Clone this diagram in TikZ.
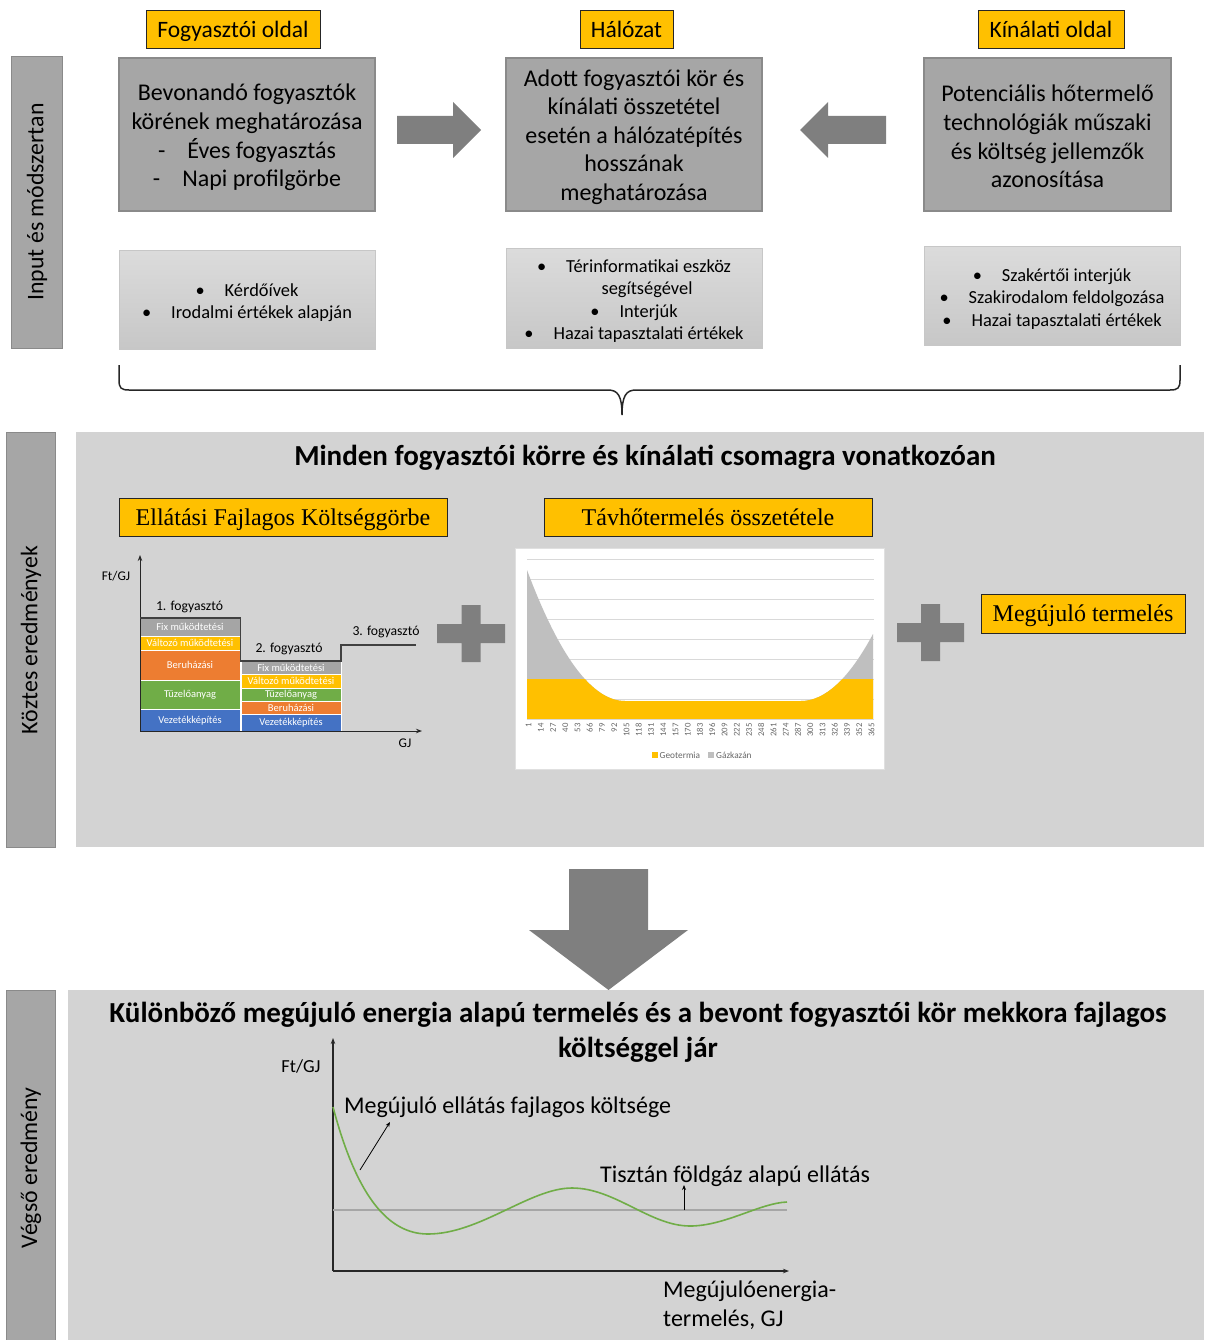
\documentclass[tikz,border=0pt]{standalone}
\usepackage{fontspec}
\setmainfont{Carlito}
\newfontfamily\tnr{Liberation Serif}
\usetikzlibrary{arrows.meta}

\definecolor{gold}{HTML}{FFC000}
\definecolor{midgray}{HTML}{A6A6A6}
\definecolor{edgegray}{HTML}{8A8A8A}
\definecolor{panelgray}{HTML}{D3D3D3}
\definecolor{arrowgray}{HTML}{7F7F7F}
\definecolor{segorange}{HTML}{ED7D31}
\definecolor{seggreen}{HTML}{70AD47}
\definecolor{segblue}{HTML}{4472C4}
\definecolor{seggray}{HTML}{A5A5A5}
\definecolor{areagray}{HTML}{BFBFBF}
\definecolor{gridgray}{HTML}{D9D9D9}
\definecolor{curvegreen}{HTML}{70AD47}

\newcommand\fsz[2]{\fontsize{#1}{#2}\selectfont}

\begin{document}
\begin{tikzpicture}[x=1pt,y=-1pt,
  hdr/.style={draw=black!85, line width=1pt, fill=gold, inner sep=0pt, text height=16pt, text depth=0pt, font=\fsz{23.5}{26}},
  serifhdr/.style={draw=black!85, line width=1pt, fill=gold, inner sep=0pt, text height=17pt, text depth=1pt, font=\tnr\fsz{24}{27}},
  bigbox/.style={draw=edgegray, line width=1.2pt, fill=midgray, inner sep=0pt},
  boxtext/.style={inner sep=0pt, align=center, font=\fsz{24}{28.6}},
  smallbox/.style={draw=black!22, line width=1pt, top color=black!14, bottom color=black!22, inner sep=0pt},
  smalltext/.style={inner sep=0pt, align=center, font=\fsz{18.4}{22.2}},
  side/.style={draw=edgegray, line width=1pt, fill=midgray, inner sep=0pt},
  sidelabel/.style={rotate=90, inner sep=0pt, font=\fsz{23.8}{26}},
  panel/.style={fill=panelgray, inner sep=0pt},
  fatshape/.style={fill=arrowgray},
  seg/.style={draw=white, line width=0.6pt, inner sep=0pt, text=white, font=\fsz{10.5}{11}},
  small/.style={inner sep=0pt, font=\fsz{13.7}{15}},
  axis/.style={line width=1pt, black!85, -{Stealth[length=6pt,width=4.5pt]}},
  lbl/.style={inner sep=0pt, font=\fsz{24}{29}},
  tick/.style={rotate=90, anchor=east, inner sep=0pt, font=\fsz{8.7}{9}, text=black!60},
  legend/.style={anchor=west, inner sep=0pt, font=\fsz{9.3}{10}, text=black!60},
]
\useasboundingbox (0,0) rectangle (1204,1340);

% ---------------- Top section ----------------
\node[side, minimum width=51, minimum height=291] (s1) at (36.5,202.5) {};
\node[sidelabel] (s1t) at (37,202) {Input és módszertan};

\node[hdr, minimum width=174, minimum height=38] (h1) at (233,30) {Fogyasztói oldal};
\node[hdr, minimum width=93, minimum height=38] (h2) at (626.5,30) {Hálózat};
\node[hdr, minimum width=146, minimum height=38] (h3) at (1051,30) {Kínálati oldal};

\node[bigbox, minimum width=256, minimum height=153] (b1) at (247,134.5) {};
\node[boxtext] (b1t) at (247,137.5)
  {Bevonandó fogyasztók\\körének meghatározása\\-\hspace{22pt}Éves fogyasztás\\-\hspace{22pt}Napi profilgörbe};
\node[bigbox, minimum width=256, minimum height=153] (b2) at (634,134.5) {};
\node[boxtext] (b2t) at (634,137)
  {Adott fogyasztói kör és\\kínálati összetétel\\esetén a hálózatépítés\\hosszának\\meghatározása};
\node[bigbox, minimum width=247, minimum height=153] (b3) at (1047.5,134.5) {};
\node[boxtext] (b3t) at (1047.5,136.5)
  {Potenciális hőtermelő\\technológiák műszaki\\és költség jellemzők\\azonosítása};

\fill[fatshape] (397,116) -- (453,116) -- (453,102) -- (481,130) -- (453,158) -- (453,144) -- (397,144) -- cycle;
\fill[fatshape] (886,116) -- (828,116) -- (828,102) -- (800,130) -- (828,158) -- (828,144) -- (886,144) -- cycle;

\node[smallbox, minimum width=256, minimum height=98] (sb1) at (247,300) {};
\node[smalltext] (sb1t) at (247,303)
  {•\hspace{20pt}Kérdőívek\\•\hspace{20pt}Irodalmi értékek alapján};
\node[smallbox, minimum width=256, minimum height=99] (sb2) at (634,298.5) {};
\node[smalltext] (sb2t) at (634,301)
  {•\hspace{20pt}Térinformatikai eszköz\\\hspace{26pt}segítségével\\•\hspace{20pt}Interjúk\\•\hspace{20pt}Hazai tapasztalati értékek};
\node[smallbox, minimum width=256, minimum height=98] (sb3) at (1052,296) {};
\node[smalltext] (sb3t) at (1052,299)
  {•\hspace{20pt}Szakértői interjúk\\•\hspace{20pt}Szakirodalom feldolgozása\\•\hspace{20pt}Hazai tapasztalati értékek};

% brace
\coordinate (brL) at (119,365);
\coordinate (brR) at (1180,365);
\coordinate (brM) at (622,415);
\draw[line width=1.5pt, black!85] (brL) -- (119,380) .. controls (119,388) and (121,390) .. (129,390)
  -- (608,390) .. controls (618,390) and (622,396) .. (brM)
  .. controls (622,396) and (626,390) .. (636,390) -- (1170,390)
  .. controls (1178,390) and (1180,388) .. (1180,380) -- (brR);

% ---------------- Middle section ----------------
\node[side, minimum width=49, minimum height=415] (s2) at (30.5,639.5) {};
\node[sidelabel] (s2t) at (31,640) {Köztes eredmények};
\node[panel, minimum width=1128, minimum height=415] (p2) at (640,639.5) {};

\node[inner sep=0pt, font=\fsz{29}{32}\bfseries] (t2) at (645,458) {Minden fogyasztói körre és kínálati csomagra vonatkozóan};

\node[serifhdr, minimum width=328, minimum height=38] (e1) at (283,517) {Ellátási Fajlagos Költséggörbe};
\node[serifhdr, minimum width=328, minimum height=38] (e2) at (708,517) {Távhőtermelés összetétele};
\node[serifhdr, minimum width=204, minimum height=39] (e3) at (1083,613.5) {Megújuló termelés};

% chart 1: cost curve
\node[seg, fill=seggray,    minimum width=100, minimum height=18]   (a1) at (190,627)    {Fix működtetési};
\node[seg, fill=gold,       minimum width=100, minimum height=14]   (a2) at (190,643)    {Változó működtetési};
\node[seg, fill=segorange,  minimum width=100, minimum height=30]   (a3) at (190,665)    {Beruházási};
\node[seg, fill=seggreen,   minimum width=100, minimum height=29.5] (a4) at (190,694.75) {Tüzelőanyag};
\node[seg, fill=segblue,    minimum width=100, minimum height=21.5] (a5) at (190,720.25) {Vezetékképítés};

\node[seg, fill=seggray,    minimum width=100, minimum height=13.5] (c1) at (291,667.75) {Fix működtetési};
\node[seg, fill=gold,       minimum width=100, minimum height=13.5] (c2) at (291,681.25) {Változó működtetési};
\node[seg, fill=seggreen,   minimum width=100, minimum height=13]   (c3) at (291,694.5)  {Tüzelőanyag};
\node[seg, fill=segorange,  minimum width=100, minimum height=13.5] (c4) at (291,707.75) {Beruházási};
\node[seg, fill=segblue,    minimum width=100, minimum height=16.5] (c5) at (291,722.75) {Vezetékképítés};

\coordinate (o1) at (140,731);
\coordinate (y1) at (140,555);
\coordinate (x1) at (422,731);
\draw[axis] (o1) -- (y1);
\draw[axis] (o1) -- (x1);
\coordinate (k1) at (140,618);
\coordinate (k2) at (240.5,618);
\coordinate (k3) at (240.5,661);
\coordinate (k4) at (341,661);
\coordinate (k5) at (341,645);
\coordinate (k6) at (416,645);
\draw[line width=1.5pt, black!75] (k1) -- (k2) -- (k3) -- (k4) -- (k5) -- (k6);

\node[small, font=\fsz{13.3}{14}] (fl1) at (116,576) {Ft/GJ};
\node[small, font=\fsz{13.3}{14}] (gl1) at (405,743) {GJ};
\node[small] (f1) at (189.5,607) {1. fogyasztó};
\node[small] (f2) at (289,649) {2. fogyasztó};
\node[small] (f3) at (386,632) {3. fogyasztó};

% plus signs
\fill[fatshape] (461.5,605) rectangle (480.5,662) (437,624) rectangle (505,643);
\fill[fatshape] (921,604) rectangle (940,661) (897,623) rectangle (964,642);

% chart 2: area chart
\node[draw=black!12, line width=0.8pt, fill=white, minimum width=369, minimum height=221, inner sep=0pt] (ch2) at (699.5,658.5) {};
\foreach \g in {559,579,599,619,639,659,679,699} {
  \draw[gridgray, line width=0.8pt] (527,\g) -- (874,\g);
}
\fill[areagray] (527,719) -- (527,570) .. controls (559.7,657.3) and (592.3,701) .. (625,701)
  -- (801,701) .. controls (825,701) and (849,678.7) .. (873,634) -- (873,719) -- cycle;
\begin{scope}
  \clip (526,679) rectangle (875,719);
  \fill[gold] (527,719) -- (527,570) .. controls (559.7,657.3) and (592.3,701) .. (625,701)
    -- (801,701) .. controls (825,701) and (849,678.7) .. (873,634) -- (873,719) -- cycle;
\end{scope}
\draw[gridgray, line width=0.8pt] (527,719) -- (874,719);
\foreach \i in {0,...,28} {
  \pgfmathtruncatemacro\dd{1+13*\i}
  \node[tick] (dl\i) at ({528.5+12.25*\i},723) {\dd};
}
\fill[gold] (652,752) rectangle (658,758);
\node[legend] (lg1) at (659.5,755) {Geotermia};
\fill[areagray] (708,752) rectangle (714,758);
\node[legend] (lg2) at (716,755) {Gázkazán};

% down arrow
\fill[fatshape] (569,869) -- (648,869) -- (648,930) -- (688,930) -- (608.5,990) -- (529,930) -- (569,930) -- cycle;

% ---------------- Bottom section ----------------
\node[side, minimum width=49, minimum height=352] (s3) at (30.5,1166) {};
\node[sidelabel] (s3t) at (31,1168) {Végső eredmény};
\node[panel, minimum width=1136, minimum height=350] (p3) at (636,1165) {};

\node[inner sep=0pt, align=center, font=\fsz{29}{35}\bfseries] (t3) at (638,1032)
  {Különböző megújuló energia alapú termelés és a bevont fogyasztói kör mekkora fajlagos\\költséggel jár};

\coordinate (o3) at (333,1271);
\coordinate (y3) at (333,1038);
\coordinate (x3) at (789,1271);
\draw[axis, line width=1.2pt] (o3) -- (y3);
\draw[axis, line width=1.2pt] (o3) -- (x3);
\coordinate (g1) at (333,1210);
\coordinate (g2) at (787,1210);
\draw[midgray, line width=2pt] (g1) -- (g2);

\draw[curvegreen, line width=1.6pt] (333,1107) .. controls (355,1190) and (385,1234) .. (428,1234)
  .. controls (480,1234) and (530,1188) .. (572,1188)
  .. controls (615,1188) and (650,1226) .. (690,1226)
  .. controls (725,1226) and (760,1203) .. (787,1202);

\node[inner sep=0pt, font=\fsz{18.4}{20}] (fl3) at (301,1066) {Ft/GJ};
\node[lbl, anchor=west] (m1) at (344,1107) {Megújuló ellátás fajlagos költsége};
\node[lbl, anchor=west] (m2) at (600,1176) {Tisztán földgáz alapú ellátás};
\node[lbl, anchor=north west, align=left] (m3) at (663,1281) {Megújulóenergia-\\termelés, GJ};

\coordinate (pa1) at (360,1170);
\coordinate (pa2) at (390,1122);
\draw[line width=0.8pt, -{Stealth[length=5pt,width=4pt]}] (pa1) -- (pa2);
\coordinate (pb1) at (684,1210);
\coordinate (pb2) at (684,1185);
\draw[line width=0.8pt, -{Stealth[length=5pt,width=4pt]}] (pb1) -- (pb2);
\end{tikzpicture}
\end{document}
